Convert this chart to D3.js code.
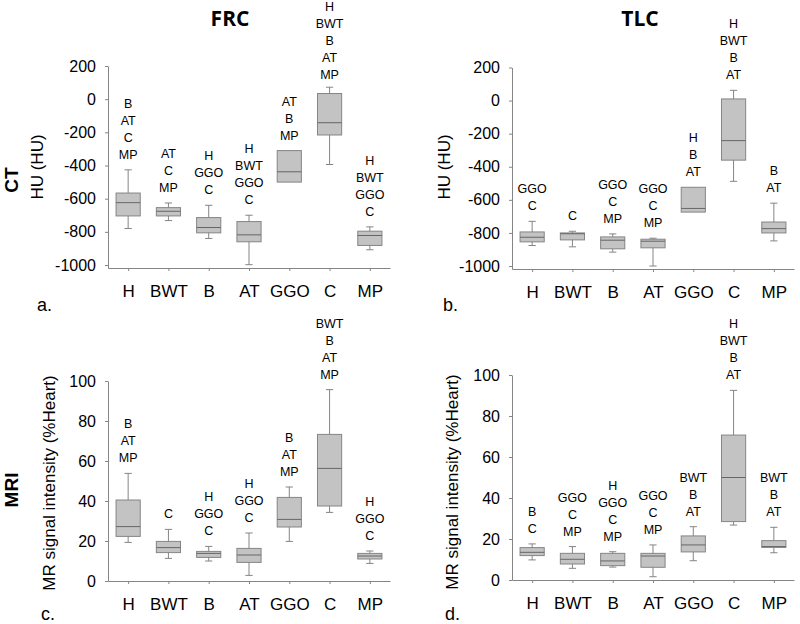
<!DOCTYPE html>
<html>
<head>
<meta charset="utf-8">
<script src="https://cdn.jsdelivr.net/npm/d3@7"></script>
<style>
  body { margin: 0; background: #fff; }
  svg text { font-family: "Liberation Sans", Arial, sans-serif; fill: #000; }
</style>
</head>
<body>
<svg id="chart" width="800" height="624"></svg>
<script>
const categories = ["H", "BWT", "B", "AT", "GGO", "C", "MP"];

// [min, q1, median, q3, max] for each category
const frcCt = [
  [-780, -704, -624, -566, -426],
  [-732, -704, -676, -654, -626],
  [-840, -806, -774, -714, -640],
  [-998, -860, -818, -738, -700],
  [-500, -500, -438, -310, -310],
  [-394, -216, -142, 34, 72],
  [-908, -882, -822, -796, -770]
];
const tlcCt = [
  [-876, -854, -826, -794, -730],
  [-884, -842, -805, -800, -790],
  [-916, -896, -844, -824, -806],
  [-1000, -890, -850, -838, -832],
  [-674, -674, -652, -524, -524],
  [-488, -360, -242, 10, 62],
  [-848, -800, -774, -734, -620]
];
const frcMri = [
  [19.3, 22.3, 27.2, 40.5, 53.8],
  [11.3, 14.2, 16.7, 19.8, 25.8],
  [10, 11.8, 13.8, 14.8, 17.3],
  [2.8, 9.3, 13, 16.3, 24],
  [19.8, 27, 30.8, 41.8, 47],
  [34.3, 37.5, 56.3, 73.3, 95.7],
  [8.8, 11, 12.5, 13.8, 15]
];
const tlcMri = [
  [9.8, 11.9, 13.5, 15.8, 17.6],
  [5.7, 7.8, 10.1, 13, 16.3],
  [6.3, 7, 9.3, 13, 13.8],
  [1.6, 6.2, 11.7, 13, 17.1],
  [9.4, 13.7, 17.1, 21.5, 26],
  [26.8, 28.5, 50, 70.7, 92.5],
  [13.3, 15.9, 16.3, 19.2, 25.7]
];

// significance letters shown above each box
const frcCtSig = [["B","AT","C","MP"], ["AT","C","MP"], ["H","GGO","C"], ["H","BWT","GGO","C"], ["AT","B","MP"], ["H","BWT","B","AT","MP"], ["H","BWT","GGO","C"]];
const tlcCtSig = [["GGO","C"], ["C"], ["GGO","C","MP"], ["GGO","C","MP"], ["H","B","AT"], ["H","BWT","B","AT"], ["B","AT"]];
const frcMriSig = [["B","AT","MP"], ["C"], ["H","GGO","C"], ["H","GGO","C"], ["B","AT","MP"], ["BWT","B","AT","MP"], ["H","GGO","C"]];
const tlcMriSig = [["B","C"], ["GGO","C","MP"], ["H","GGO","C","MP"], ["GGO","C","MP"], ["BWT","B","AT"], ["H","BWT","B","AT"], ["BWT","B","AT"]];

const ctTicks = [-1000, -800, -600, -400, -200, 0, 200];
const mriTicks = [0, 20, 40, 60, 80, 100];

const panels = [
  { data: frcCt, sig: frcCtSig, ticks: ctTicks, domain: [-1018, 200], xr: [108, 390], yr: [268, 66],
    ylabel: "HU (HU)", ylx: 43, yly: 167, tag: "a.", tagx: 37, tagy: 311 },
  { data: tlcCt, sig: tlcCtSig, ticks: ctTicks, domain: [-1018, 200], xr: [512, 794], yr: [269, 67.5],
    ylabel: "HU (HU)", ylx: 450, yly: 167, tag: "b.", tagx: 443, tagy: 311 },
  { data: frcMri, sig: frcMriSig, ticks: mriTicks, domain: [0, 100], xr: [108, 390], yr: [581, 381],
    ylabel: "MR signal intensity (%Heart)", ylx: 55, yly: 483, tag: "c.", tagx: 41, tagy: 620 },
  { data: tlcMri, sig: tlcMriSig, ticks: mriTicks, domain: [0, 100], xr: [512, 794], yr: [580, 375],
    ylabel: "MR signal intensity (%Heart)", ylx: 458, yly: 482, tag: "d.", tagx: 445, tagy: 620 }
];

const svg = d3.select("#chart");
const grey = "#858585";
const lineGap = 17;

panels.forEach(p => {
  const x = d3.scalePoint().domain(categories).range(p.xr).padding(0.5);
  const y = d3.scaleLinear().domain(p.domain).range(p.yr);
  const g = svg.append("g");
  const bw = x.step() * 0.6;
  const cw = x.step() * 0.18;

  // y axis
  const ya = g.append("g")
    .attr("transform", `translate(${p.xr[0]},0)`)
    .call(d3.axisLeft(y).tickValues(p.ticks).tickFormat(d => String(d))
      .tickSize(3).tickSizeOuter(0).tickPadding(9));
  ya.selectAll("path, line").attr("stroke", grey);
  ya.selectAll("text").style("font-size", "16px");

  // x axis
  const xa = g.append("g")
    .attr("transform", `translate(0,${p.yr[0]})`)
    .call(d3.axisBottom(x).tickSize(3).tickSizeOuter(0).tickPadding(13.5));
  xa.selectAll("path, line").attr("stroke", grey);
  xa.selectAll("text").style("font-size", "17px");

  const box = g.selectAll("g.box")
    .data(p.data)
    .enter()
    .append("g")
    .attr("class", "box")
    .attr("transform", (d, i) => `translate(${x(categories[i])},0)`);

  // whiskers
  box.append("line")
    .attr("x1", 0).attr("x2", 0)
    .attr("y1", d => y(d[0])).attr("y2", d => y(d[4]))
    .attr("stroke", grey);
  box.filter(d => d[4] > d[3]).append("line")
    .attr("x1", -cw / 2).attr("x2", cw / 2)
    .attr("y1", d => y(d[4])).attr("y2", d => y(d[4]))
    .attr("stroke", grey);
  box.filter(d => d[0] < d[1]).append("line")
    .attr("x1", -cw / 2).attr("x2", cw / 2)
    .attr("y1", d => y(d[0])).attr("y2", d => y(d[0]))
    .attr("stroke", grey);

  // box and median
  box.append("rect")
    .attr("x", -bw / 2)
    .attr("width", bw)
    .attr("y", d => y(d[3]))
    .attr("height", d => y(d[1]) - y(d[3]))
    .attr("fill", "#c3c3c3")
    .attr("stroke", grey);
  box.append("line")
    .attr("x1", -bw / 2).attr("x2", bw / 2)
    .attr("y1", d => y(d[2])).attr("y2", d => y(d[2]))
    .attr("stroke", "#666");

  // significance letters, stacked above the top whisker (kept inside the page)
  box.each(function(d, i) {
    const letters = p.sig[i];
    const base = Math.max(y(d[4]) - 11, 11 + (letters.length - 1) * lineGap);
    d3.select(this).selectAll("text.sig")
      .data(letters)
      .enter()
      .append("text")
      .attr("class", "sig")
      .attr("text-anchor", "middle")
      .attr("y", (t, k) => base - (letters.length - 1 - k) * lineGap)
      .style("font-size", "12.5px")
      .text(t => t);
  });

  // y axis title
  g.append("text")
    .attr("transform", `translate(${p.ylx},${p.yly}) rotate(-90)`)
    .attr("text-anchor", "middle")
    .style("font-size", "17px")
    .text(p.ylabel);

  // panel tag
  g.append("text")
    .attr("x", p.tagx).attr("y", p.tagy)
    .style("font-size", "18px")
    .text(p.tag);
});

// column titles
svg.append("text").attr("x", 230).attr("y", 26).attr("text-anchor", "middle")
  .style("font-family", "'Open Sans', sans-serif").style("font-weight", "bold").style("font-size", "21px")
  .text("FRC");
svg.append("text").attr("x", 640).attr("y", 26).attr("text-anchor", "middle")
  .style("font-family", "'Open Sans', sans-serif").style("font-weight", "bold").style("font-size", "21px")
  .text("TLC");

// row titles
svg.append("text").attr("transform", "translate(18,180) rotate(-90)").attr("text-anchor", "middle")
  .style("font-weight", "bold").style("font-size", "19px").text("CT");
svg.append("text").attr("transform", "translate(18,490) rotate(-90)").attr("text-anchor", "middle")
  .style("font-weight", "bold").style("font-size", "19px").text("MRI");
</script>
</body>
</html>
